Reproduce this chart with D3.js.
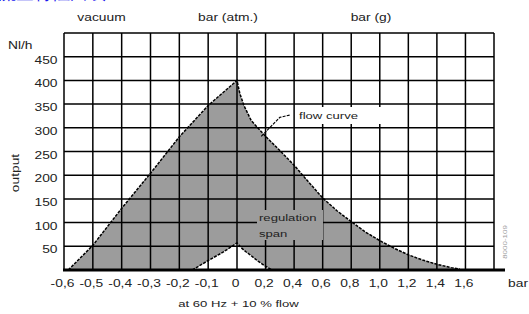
<!DOCTYPE html>
<html><head><meta charset="utf-8">
<script src="https://cdn.jsdelivr.net/npm/d3@7"></script>
<style>
html,body{margin:0;padding:0;background:#fff;}
svg{display:block;}
text{font-family:"Liberation Sans",Arial,sans-serif;}
</style></head>
<body>
<svg id="c" width="529" height="314"></svg>
<script>
// ---- data ----
const xGridValues = [-0.6,-0.5,-0.4,-0.3,-0.2,-0.1,0,0.2,0.4,0.6,0.8,1.0,1.2,1.4,1.6,1.8];
const xTickValues = [-0.6,-0.5,-0.4,-0.3,-0.2,-0.1,0,0.2,0.4,0.6,0.8,1.0,1.2,1.4,1.6];
const xTickLabels = ["-0,6","-0,5","-0,4","-0,3","-0,2","-0,1","0","0,2","0,4","0,6","0,8","1,0","1,2","1,4","1,6"];
const yGridValues = [0,50,100,150,200,250,300,350,400,450,500];
const yTickValues = [50,100,150,200,250,300,350,400,450];
const yTickLabels = ["50","100","150","200","250","300","350","400","450"];
// flow curve (bar, Nl/h)
const flowX = [-0.585,-0.5,-0.4,-0.3,-0.2,-0.1,0,0.02,0.05,0.1,0.2,0.3,0.4,0.5,0.6,0.7,0.8,0.9,1.0,1.1,1.2,1.3,1.4,1.5,1.56];
const flowY = [0,52,130,204,281,347,400,372,346,315,282,252,221,186,152,125,102,80,62,46,32,21,12,5,2];
// regulation span
const regX = [-0.155,-0.1,-0.05,0,0.03,0.06,0.1,0.15,0.2,0.245];
const regY = [0,20,37,57,47,39,30,18,8,0];
const topLabels = ["vacuum","bar (atm.)","bar (g)"];

// ---- layout ----
const svg = d3.select("#c");
const x = d3.scaleLinear().domain([-0.6,0,1.8]).range([64,237,494]);
const y = d3.scaleLinear().domain([0,500]).range([270,33]);
const SX = 1.38;
const TXT = "#222";

function label(px, py, str, anchor, size, opts={}){
  const g = svg.append("g").attr("transform", `translate(${px},${py})` + (opts.rotate?` rotate(${opts.rotate})`:""));
  const t = g.append("text").attr("transform", `scale(${opts.sx||SX},1)`)
    .attr("text-anchor", anchor).attr("font-size", size).attr("fill", opts.fill||TXT).text(str);
  return t;
}

// blue heading (cut off at top, as in the reference)
svg.append("text").attr("x",-2).attr("y",-1).attr("font-size",18).attr("fill","#1a1aee")
  .attr("font-family","'Noto Sans CJK SC'").text("流量特性曲线");

// areas
const flowPts = flowX.map((d,i)=>[d,flowY[i]]);
const regPts = regX.map((d,i)=>[d,regY[i]]);
const area = d3.area().x(d=>x(d[0])).y0(y(0)).y1(d=>y(d[1]));
svg.append("path").attr("d", area(flowPts)).attr("fill","#9c9c9c");
svg.append("path").attr("d", area(regPts)).attr("fill","#fff");

// grid
svg.append("g").selectAll("line").data(xGridValues).join("line")
  .attr("x1",d=>x(d)).attr("x2",d=>x(d)).attr("y1",y(500)).attr("y2",y(0))
  .attr("stroke","#000").attr("stroke-width",1.5);
svg.append("g").selectAll("line").data(yGridValues).join("line")
  .attr("x1",x(-0.6)).attr("x2",x(1.8)).attr("y1",d=>y(d)).attr("y2",d=>y(d))
  .attr("stroke","#000").attr("stroke-width",1.5);
svg.append("line").attr("x1",x(-0.6)-1).attr("x2",505).attr("y1",y(0)).attr("y2",y(0))
  .attr("stroke","#000").attr("stroke-width",3.2);

// curves
const line = d3.line().x(d=>x(d[0])).y(d=>y(d[1]));
svg.append("path").attr("d", line(flowPts)).attr("fill","none").attr("stroke","#000")
  .attr("stroke-width",1.5).attr("stroke-dasharray","3,1.2");
svg.append("path").attr("d", line(regPts)).attr("fill","none").attr("stroke","#000")
  .attr("stroke-width",1.5).attr("stroke-dasharray","3,1.2");

// annotation boxes + labels
svg.append("rect").attr("x",297).attr("y",107).attr("width",89).attr("height",17).attr("fill","#fff");
svg.append("path").attr("d",`M${x(0.17)},${y(282)} L${x(0.3)},${y(322)} L${x(0.37)},${y(327)}`)
  .attr("fill","none").attr("stroke","#000").attr("stroke-width",1.2).attr("stroke-dasharray","3,1.2");
label(299,118.5,"flow curve","start",9.5);
svg.append("rect").attr("x",257).attr("y",210).attr("width",66).attr("height",30).attr("fill","#9c9c9c");
label(259,221,"regulation","start",9.5);
label(259,237,"span","start",9.5);

// axes (tick labels)
const xAxis = d3.axisBottom(x).tickValues(xTickValues).tickFormat((d,i)=>xTickLabels[i]).tickSize(0);
const gx = svg.append("g").attr("transform",`translate(-2,${y(0)})`).call(xAxis);
gx.select(".domain").remove();
gx.selectAll("text").attr("y",0).attr("dy",0).attr("transform",`translate(0,16.5) scale(${SX},1)`)
  .attr("font-size",10).attr("font-family","'Liberation Sans',Arial,sans-serif").attr("fill",TXT);

const yAxis = d3.axisLeft(y).tickValues(yTickValues).tickFormat((d,i)=>yTickLabels[i]).tickSize(0);
const gy = svg.append("g").attr("transform",`translate(57.5,3)`).call(yAxis);
gy.select(".domain").remove();
gy.selectAll("text").attr("x",0).attr("dy","0.35em").attr("transform",`scale(${SX},1)`)
  .attr("font-size",10).attr("font-family","'Liberation Sans',Arial,sans-serif").attr("fill",TXT);

label(8,48.5,"Nl/h","start",10);
label(518,286.5,"bar","middle",10);
label(18.5,173,"output","middle",10,{rotate:-90});
label(101.5,20.5,topLabels[0],"middle",10);
label(228,20.5,topLabels[1],"middle",10);
label(371,20.5,topLabels[2],"middle",10);
label(238.5,307,"at 60 Hz + 10 % flow","middle",9.5,{sx:1.38});
label(507,242,"8000-109","middle",5,{rotate:-90,fill:"#999",sx:1.6});
</script>
</body></html>
